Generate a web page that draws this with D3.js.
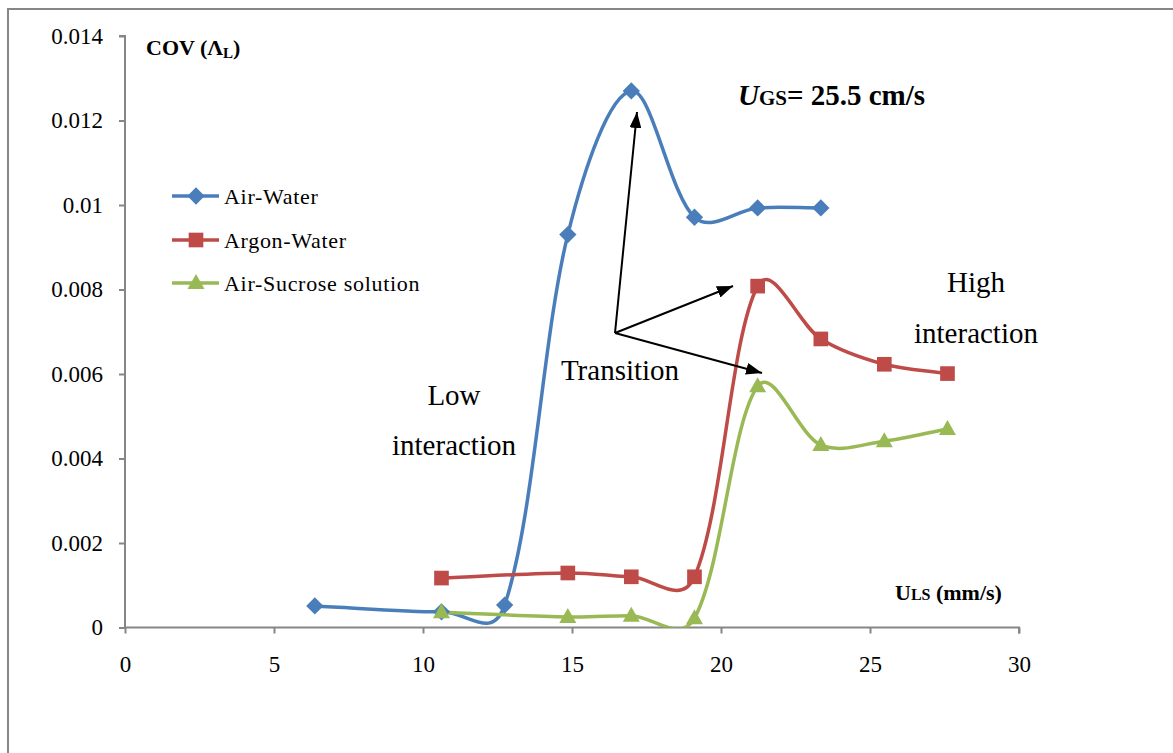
<!DOCTYPE html>
<html>
<head>
<meta charset="utf-8">
<script src="https://cdn.jsdelivr.net/npm/d3@7"></script>
<style>
  html, body { margin: 0; padding: 0; background: #fff; }
  svg { display: block; }
  text { font-family: "Times New Roman", "Liberation Serif", serif; fill: #000; }
</style>
</head>
<body>
<svg id="chart" width="1173" height="753"></svg>
<script>
// Superficial liquid velocity U_LS (mm/s)
const ulsAirWater = [6.37, 10.62, 12.74, 14.86, 16.99, 19.11, 21.23, 23.35];
const covAirWater = [0.00051, 0.00037, 0.00053, 0.0093, 0.0127, 0.00971, 0.00993, 0.00993];

const ulsArgonWater = [10.62, 14.86, 16.99, 19.11, 21.23, 23.35, 25.48, 27.60];
const covArgonWater = [0.00117, 0.00129, 0.00120, 0.00120, 0.00808, 0.00683, 0.00623, 0.00601];

const ulsSucrose = [10.62, 14.86, 16.99, 19.11, 21.23, 23.35, 25.48, 27.60];
const covSucrose = [0.00036, 0.00025, 0.00028, 0.00022, 0.00571, 0.00432, 0.00441, 0.00470];

const seriesNames = ["Air-Water", "Argon-Water", "Air-Sucrose solution"];
const seriesColors = ["#4A7EBB", "#BE4B48", "#98B954"];
const seriesSymbols = ["diamond", "square", "triangle"];

const xTicks = [0, 5, 10, 15, 20, 25, 30];
const yTicks = [0, 0.002, 0.004, 0.006, 0.008, 0.01, 0.012, 0.014];
const yTickLabels = ["0", "0.002", "0.004", "0.006", "0.008", "0.01", "0.012", "0.014"];

const series = [
  { x: ulsAirWater, y: covAirWater },
  { x: ulsArgonWater, y: covArgonWater },
  { x: ulsSucrose, y: covSucrose }
].map((s, i) => ({
  name: seriesNames[i], color: seriesColors[i], symbol: seriesSymbols[i],
  points: s.x.map((v, j) => [v, s.y[j]])
}));

const svg = d3.select("#chart");
const plot = { left: 125, right: 1019, top: 36, bottom: 627.5 };

const x = d3.scaleLinear().domain([0, 30]).range([plot.left, plot.right]);
const y = d3.scaleLinear().domain([0, 0.014]).range([plot.bottom, plot.top]);

// outer chart frame
svg.append("rect").attr("x", 8).attr("y", 9).attr("width", 1300).attr("height", 900)
  .attr("fill", "#fff").attr("stroke", "#878787").attr("stroke-width", 2);

const axisColor = "#868686";

// y axis
const yAxis = svg.append("g").attr("transform", `translate(${plot.left},0)`)
  .call(d3.axisLeft(y).tickValues(yTicks).tickSize(6).tickPadding(16)
    .tickFormat((d, i) => yTickLabels[i]));
// x axis
const xAxis = svg.append("g").attr("transform", `translate(0,${plot.bottom})`)
  .call(d3.axisBottom(x).tickValues(xTicks).tickSize(6).tickPadding(22)
    .tickFormat(d3.format("d")));

[yAxis, xAxis].forEach(g => {
  g.select(".domain").attr("stroke", axisColor).attr("stroke-width", 2);
  g.selectAll(".tick line").attr("stroke", axisColor).attr("stroke-width", 2);
  g.selectAll(".tick text").style("font-family", '"Times New Roman", "Liberation Serif", serif')
    .style("font-size", "23px").attr("fill", "#000");
});
yAxis.select(".domain").attr("d", `M-6,${y(0.014)}H0V${plot.bottom}`);
xAxis.select(".domain").attr("d", `M${plot.left},0H${plot.right}V6`);

// clip lines to the plot area
svg.append("defs").append("clipPath").attr("id", "plotClip")
  .append("rect").attr("x", plot.left).attr("y", plot.top - 20)
  .attr("width", plot.right - plot.left).attr("height", plot.bottom - plot.top + 20);

// Smoothed line: cubic Bézier through every point, tangent parallel to the
// neighbours' chord and scaled by the square-root lengths of adjacent segments.
function smoothPath(pts) {
  const p = pts.map(d => [x(d[0]), y(d[1])]);
  const path = d3.path();
  const n = p.length;
  const dist = (a, b) => Math.sqrt(Math.hypot(b[0] - a[0], b[1] - a[1]));
  path.moveTo(p[0][0], p[0][1]);
  for (let i = 0; i < n - 1; i++) {
    const p0 = p[Math.max(i - 1, 0)], p1 = p[i], p2 = p[i + 1], p3 = p[Math.min(i + 2, n - 1)];
    const s01 = dist(p0, p1), s12 = dist(p1, p2), s23 = dist(p2, p3);
    const f1 = s01 > 0 ? s12 / (s01 + s12) / 3 : 1 / 3;
    const f2 = s23 > 0 ? s12 / (s12 + s23) / 3 : 1 / 3;
    const t1 = s01 > 0 ? [p2[0] - p0[0], p2[1] - p0[1]] : [p2[0] - p1[0], p2[1] - p1[1]];
    const t2 = s23 > 0 ? [p3[0] - p1[0], p3[1] - p1[1]] : [p2[0] - p1[0], p2[1] - p1[1]];
    path.bezierCurveTo(
      p1[0] + t1[0] * f1, p1[1] + t1[1] * f1,
      p2[0] - t2[0] * f2, p2[1] - t2[1] * f2,
      p2[0], p2[1]);
  }
  return path.toString();
}

const symbolPath = {
  diamond: d3.symbol().type(d3.symbolSquare).size(150)(),
  square: d3.symbol().type(d3.symbolSquare).size(215)(),
  triangle: "M0,-9L8.5,6L-8.5,6Z"
};

const lines = svg.append("g").attr("clip-path", "url(#plotClip)");
series.forEach(s => {
  lines.append("path").attr("d", smoothPath(s.points)).attr("fill", "none")
    .attr("stroke", s.color).attr("stroke-width", 3.5).attr("stroke-linejoin", "round");
});
series.forEach(s => {
  svg.append("g").selectAll("path").data(s.points).join("path")
    .attr("d", symbolPath[s.symbol])
    .attr("transform", d => `translate(${x(d[0])},${y(d[1])})` + (s.symbol === "diamond" ? " rotate(45)" : ""))
    .attr("fill", s.color);
});

// legend
const legend = svg.append("g");
const legendY = [196, 240, 283];
series.forEach((s, i) => {
  const g = legend.append("g").attr("transform", `translate(0,${legendY[i]})`);
  g.append("line").attr("x1", 172).attr("x2", 219).attr("stroke", s.color).attr("stroke-width", 3.5);
  g.append("path").attr("d", symbolPath[s.symbol])
    .attr("transform", "translate(196,0)" + (s.symbol === "diamond" ? " rotate(45)" : ""))
    .attr("fill", s.color);
  g.append("text").attr("x", 224).attr("y", 8).style("font-size", "22px")
    .style("letter-spacing", "0.7px").text(s.name);
});

// axis titles
const yTitle = svg.append("text").attr("x", 146).attr("y", 55)
  .style("font-size", "22px").style("font-weight", "bold");
yTitle.append("tspan").text("COV (Λ");
yTitle.append("tspan").attr("dy", 3).style("font-size", "15px").text("L");
yTitle.append("tspan").attr("dy", -3).text(")");

const xTitle = svg.append("text").attr("x", 895).attr("y", 600)
  .style("font-size", "22px").style("font-weight", "bold");
xTitle.append("tspan").text("U");
xTitle.append("tspan").style("font-size", "16px").text("LS");
xTitle.append("tspan").text(" (mm/s)");

const ugs = svg.append("text").attr("x", 738).attr("y", 105)
  .style("font-size", "29px").style("font-weight", "bold");
ugs.append("tspan").style("font-style", "italic").text("U");
ugs.append("tspan").style("font-size", "21px").text("GS");
ugs.append("tspan").text("= 25.5 cm/s");

// regime annotations
const notes = [
  { text: "Low", cx: 454, y: 405 },
  { text: "interaction", cx: 454, y: 455 },
  { text: "Transition", cx: 620, y: 380 },
  { text: "High", cx: 976, y: 292 },
  { text: "interaction", cx: 976, y: 343 }
];
svg.append("g").selectAll("text").data(notes).join("text")
  .attr("x", d => d.cx).attr("y", d => d.y).attr("text-anchor", "middle")
  .style("font-size", "29px").text(d => d.text);

// arrows from the transition label toward each peak
svg.select("defs").append("marker").attr("id", "arrowHead")
  .attr("viewBox", "0 0 16 12").attr("refX", 16).attr("refY", 6)
  .attr("markerWidth", 16).attr("markerHeight", 12).attr("markerUnits", "userSpaceOnUse")
  .attr("orient", "auto")
  .append("path").attr("d", "M0,0L16,6L0,12Z").attr("fill", "#000");

const origin = [615, 333];
const tips = [[637, 112], [733, 286], [762, 373]];
svg.append("g").selectAll("line").data(tips).join("line")
  .attr("x1", origin[0]).attr("y1", origin[1])
  .attr("x2", d => d[0]).attr("y2", d => d[1])
  .attr("stroke", "#000").attr("stroke-width", 2)
  .attr("marker-end", "url(#arrowHead)");
</script>
</body>
</html>
